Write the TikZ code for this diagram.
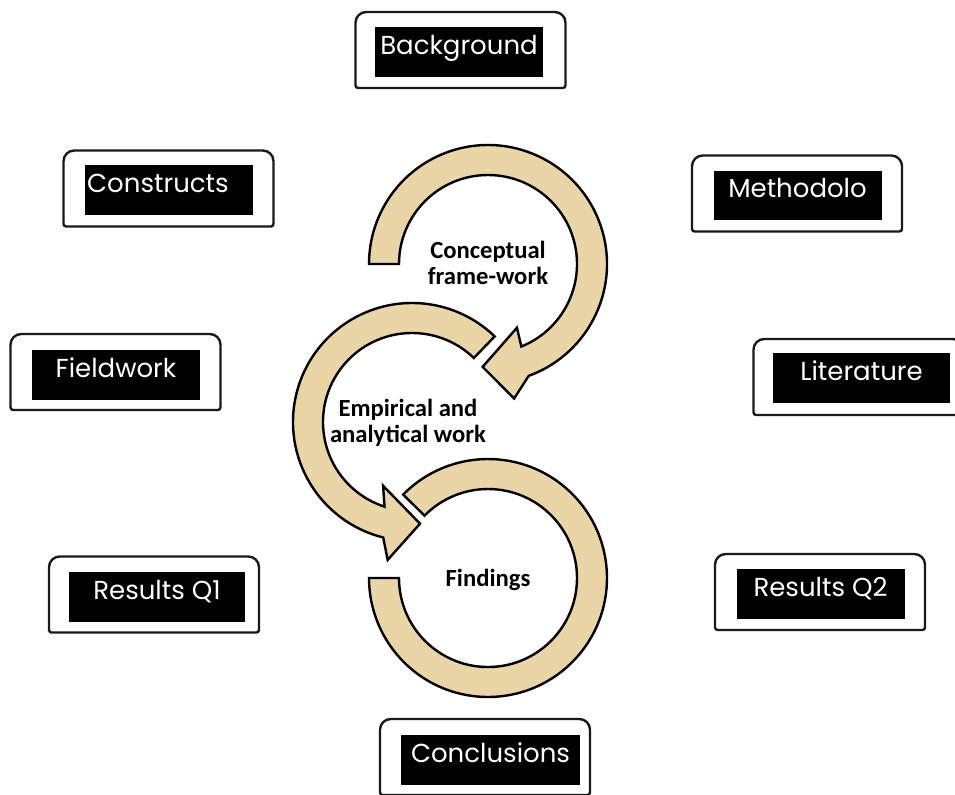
\documentclass[tikz,border=0pt]{standalone}
\usepackage{fontspec}
\usepackage{xcolor}
\usepackage{tikz}
\newfontfamily\tagfont{Poppins}
\newfontfamily\stepfont{Carlito}
\definecolor{parchment}{RGB}{233,213,166}

\tikzset{
  frameline/.style={draw=black!90, line width=1.8pt},
  tag/.style={fill=black, text=white, font=\tagfont\fontsize{19.5}{23}\selectfont,
    minimum width=126pt, minimum height=37pt, inner sep=0pt,
    text height=13pt, text depth=10pt},
  cyclearrow/.style={fill=parchment, draw=black, line width=1.8pt},
  steplabel/.style={font=\stepfont\bfseries\fontsize{18.5}{19.5}\selectfont, align=center}
}

% frame round a tag: name, x, y
\newcommand{\tagframe}[3]{%
  \coordinate (#1) at (#2,#3);
  \draw[frameline] ([shift={(0,-38)}]#1) [rounded corners=2pt] -- ([shift={(-105,-38)}]#1)
    -- ([shift={(-105,0)}]#1) [rounded corners=8pt] -- ([shift={(-105,38)}]#1)
    -- ([shift={(105,38)}]#1) -- ([shift={(105,0)}]#1) [rounded corners=2pt]
    -- ([shift={(105,-38)}]#1) -- cycle;}

\begin{document}
\begin{tikzpicture}[x=0.75pt, y=0.75pt]
    \useasboundingbox (0,0) rectangle (955,-794);

    % frames
    \tagframe{backgroundf}{460.5}{-50}
    \tagframe{constructsf}{168.5}{-188.5}
    \tagframe{methodf}{797}{-193.5}
    \tagframe{fieldworkf}{115.5}{-372}
    \tagframe{literaturef}{858.5}{-377}
    \tagframe{resultsonef}{154}{-594.5}
    \tagframe{resultstwof}{820}{-592}
    \tagframe{conclusionsf}{485}{-757}

    % tags
    \node[tag] (background) at (459,-52) {Background};
    \node[tag, text width=122pt, align=left] (constructs) at (168.5,-190) {Constructs};
    \node[tag] (method) at (797.5,-195.5) {Methodolo};
    \node[tag] (fieldwork) at (116,-375) {Fieldwork};
    \node[tag, minimum width=132.75pt] (literature) at (861.5,-378) {Literature};
    \node[tag, minimum width=132pt] (resultsone) at (157,-597) {Results Q1};
    \node[tag] (resultstwo) at (820.5,-594) {Results Q2};
    \node[tag, minimum width=134pt] (conclusions) at (490.5,-760) {Conclusions};

    % circular arrows
    \coordinate (c1) at (488,-264);
    \coordinate (c2) at (412,-422);
    \coordinate (c3) at (488,-578);

    \filldraw[cyclearrow] ([shift={(180:119)}]c1) -- ([shift={(180:89)}]c1)
        arc[start angle=180, end angle=-68, radius=89]
        -- ([shift={(-65.6:70)}]c1) -- ([shift={(-93:103)}]c1) -- ([shift={(-79:137)}]c1)
        -- ([shift={(-70:119)}]c1) arc[start angle=-70, end angle=180, radius=119] -- cycle;

    \filldraw[cyclearrow] ([shift={(46:119)}]c2) -- ([shift={(46:89)}]c2)
        arc[start angle=46, end angle=252, radius=89]
        -- ([shift={(245.6:70)}]c2) -- ([shift={(274.5:102)}]c2) -- ([shift={(260:140)}]c2)
        -- ([shift={(256:119)}]c2) arc[start angle=256, end angle=46, radius=119] -- cycle;

    \filldraw[cyclearrow] ([shift={(180:119)}]c3) -- ([shift={(180:89)}]c3)
        arc[start angle=180, end angle=495.5, radius=89]
        -- ([shift={(135.5:119)}]c3) arc[start angle=495.5, end angle=180, radius=119] -- cycle;

    % labels
    \node[steplabel] (concept) at (488,-263) {Conceptual\\frame-work};
    \node[steplabel] (empirical) at (408,-423) {Empirical and\\analytical work};
    \node[steplabel] (findings) at (488,-580) {Findings};
\end{tikzpicture}
\end{document}
